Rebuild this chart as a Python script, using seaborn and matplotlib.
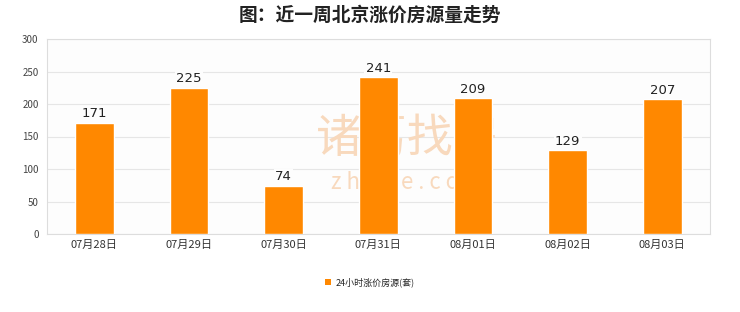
import matplotlib
matplotlib.use("Agg")
import matplotlib.pyplot as plt
import seaborn as sns
import pandas as pd
from matplotlib.patches import Patch

dates = ["07月28日", "07月29日", "07月30日", "07月31日", "08月01日", "08月02日", "08月03日"]
values = [171, 225, 74, 241, 209, 129, 207]
series_name = "24小时涨价房源(套)"
title = "图：近一周北京涨价房源量走势"
yticks = [0, 50, 100, 150, 200, 250, 300]

sns.set_theme(style="white")
plt.rcParams['font.family'] = ['Noto Sans CJK SC', 'DejaVu Sans']

df = pd.DataFrame({"date": dates, "value": values})

fig = plt.figure(figsize=(7.4, 3.12), dpi=100)
fig.patch.set_facecolor("#ffffff")
ax = fig.add_axes([0.0635, 0.25, 0.8955, 0.625])
ax.set_facecolor("#fdfdfd")

sns.barplot(data=df, x="date", y="value", color="#ff8800", saturation=1, width=0.41, ax=ax, zorder=3)

ax.set_ylim(0, 300)
ax.set_xlim(-0.5, len(dates) - 0.5)
ax.set_yticks(yticks)
ax.set_yticklabels([str(t) for t in yticks], fontsize=7, color="#444444")
ax.tick_params(axis="x", labelsize=8, colors="#333333", length=0, pad=4)
ax.tick_params(axis="y", length=0, pad=6)
ax.set_xlabel("")
ax.set_ylabel("")
ax.grid(axis="y", color="#e6e6e6", linewidth=0.8, zorder=0)
for s in ax.spines.values():
    s.set_color("#dddddd")
    s.set_linewidth(0.8)

for i, v in enumerate(values):
    ax.text(i, v + 4, str(v), ha="center", va="bottom", fontsize=9.5,
            family=["DejaVu Sans"], color="#222222", zorder=4,
            bbox=dict(boxstyle="square,pad=0.1", facecolor="#fdfdfd", edgecolor="none"))

# watermark (behind bars)
ax.text(0.545, 0.49, "诸葛找房", transform=ax.transAxes, fontsize=33, color="#f8d9bd",
        ha="center", va="center", zorder=1)
ax.text(0.545, 0.265, "z h u g e . c o m", transform=ax.transAxes, fontsize=16, color="#f8d9bd",
        ha="center", va="center", zorder=1)

fig.text(0.5, 0.952, title, fontsize=13.5, fontweight="bold", ha="center", va="center", color="#222222")

handle = Patch(facecolor="#ff8800", edgecolor="none")
fig.legend([handle], [series_name], loc="center", bbox_to_anchor=(0.5, 0.095), frameon=False,
           fontsize=6.5, handlelength=0.7, handleheight=0.7, handletextpad=0.5)

fig.savefig("out.png", dpi=100)
